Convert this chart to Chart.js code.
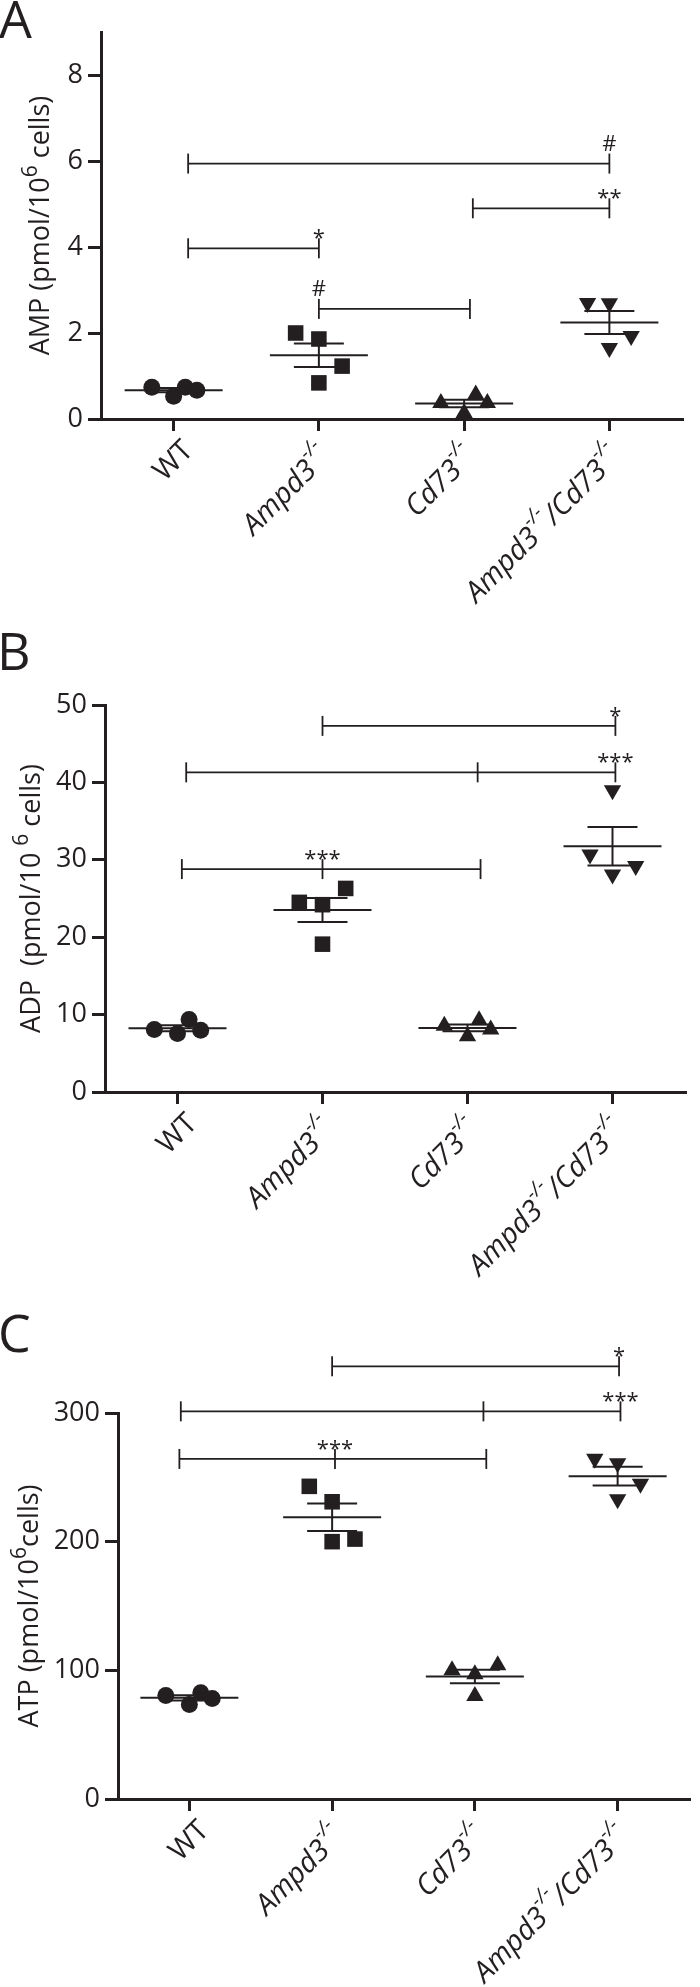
<!DOCTYPE html>
<html>
<head>
<meta charset="utf-8">
<script src="https://cdn.jsdelivr.net/npm/chart.js@4.4.1/dist/chart.umd.min.js"></script>
<style>
  html, body { margin: 0; padding: 0; background: #fff; }
  body { width: 700px; height: 1987px; position: relative; overflow: hidden; }
  canvas { position: absolute; left: 0; }
</style>
</head>
<body>
<canvas id="chartA" width="700" height="640" style="top:0px"></canvas>
<canvas id="chartB" width="700" height="700" style="top:600px"></canvas>
<canvas id="chartC" width="700" height="687" style="top:1300px"></canvas>
<script>
// genotypes, "-/-" is written as a superscript
const categories = ['WT', 'Ampd3-/-', 'Cd73-/-', 'Ampd3-/-/Cd73-/-'];

// AMP (pmol/10^6 cells), 4 mice per genotype
const ampWT = [0.74, 0.53, 0.74, 0.67];
const ampAmpd3 = [2.00, 1.86, 1.23, 0.84];
const ampCd73 = [0.37, 0.57, 0.37, 0.14];
const ampDouble = [2.70, 2.69, 1.93, 1.65];
const ampTicks = [0, 2, 4, 6, 8];

// ADP
const adpWT = [8.07, 7.56, 9.37, 7.99];
const adpAmpd3 = [24.5, 24.2, 26.3, 19.1];
const adpCd73 = [8.55, 9.28, 8.07, 7.21];
const adpDouble = [30.7, 39.0, 28.1, 29.2];
const adpTicks = [0, 10, 20, 30, 40, 50];

// ATP
const atpWT = [80.4, 73.4, 82.5, 78.1];
const atpAmpd3 = [243, 231, 200, 202];
const atpCd73 = [100, 97, 104, 80];
const atpDouble = [264.5, 261, 245, 233];
const atpTicks = [0, 100, 200, 300];

// significance brackets: [from, to, y, middle tick, mark, mark at]
const ampBrackets = [
    [0.10, 3.00, 5.94, null, '#', 3.00],
    [2.06, 3.00, 4.90, null, '**', 3.00],
    [0.10, 1.00, 3.97, null, '*', 1.00],
    [1.00, 2.04, 2.56, null, '#', 1.00],
];
const adpBrackets = [
    [0.03, 2.09, 28.8, 1.00, '***', 1.00],
    [0.06, 3.02, 41.3, 2.07, '***', 3.02],
    [1.00, 3.02, 47.3, null, '*', 3.02],
];
const atpBrackets = [
    [-0.07, 2.08, 264.3, 1.02, '***', 1.02],
    [-0.06, 3.02, 301.3, 2.06, '***', 3.02],
    [1.00, 3.01, 336.3, null, '*', 3.01],
];

// horizontal scatter of the dots inside each column (layout only)
const jitterA = [[-0.15, 0, 0.08, 0.16], [-0.16, 0, 0.16, 0], [-0.16, 0.08, 0.16, 0], [-0.15, 0, 0.15, 0]];
const jitterB = [[-0.16, 0, 0.08, 0.16], [-0.16, 0, 0.16, 0], [-0.16, 0.08, 0.16, 0], [-0.155, 0, 0, 0.16]];
const jitterC = [[-0.165, 0, 0.08, 0.16], [-0.16, 0, 0, 0.16], [-0.16, 0, 0.16, 0], [-0.16, 0, 0.16, 0]];

const INK = '#231f20';
const markerStyles = ['circle', 'rect', 'triangle', 'triangle'];
const markerRadii = [8.5, 11, 10, 10];
const markerRotation = [0, 0, 0, 180];

function meanSem(vals) {
    const n = vals.length;
    const m = vals.reduce((a, b) => a + b, 0) / n;
    const sd = Math.sqrt(vals.reduce((a, b) => a + (b - m) * (b - m), 0) / (n - 1));
    return [m, sd / Math.sqrt(n)];
}

function line(ctx, x1, y1, x2, y2) {
    ctx.beginPath();
    ctx.moveTo(x1, y1);
    ctx.lineTo(x2, y2);
    ctx.stroke();
}

// text pieces with "-/-" raised
function drawPieces(ctx, pieces, x0, mainFont, supFont, raise) {
    let x = x0;
    pieces.forEach(pc => {
        ctx.font = pc.sup ? supFont : mainFont;
        ctx.fillText(pc.t, x, pc.sup ? -raise : 0);
        x += ctx.measureText(pc.t).width;
    });
}

function piecesWidth(ctx, pieces, mainFont, supFont) {
    let w = 0;
    pieces.forEach(pc => {
        ctx.font = pc.sup ? supFont : mainFont;
        w += ctx.measureText(pc.t).width;
    });
    return w;
}

function splitLabel(label) {
    const parts = label.split('-/-');
    const pieces = [];
    parts.forEach((p, k) => {
        if (p) pieces.push({ t: p, sup: false });
        if (k < parts.length - 1) pieces.push({ t: '-/-', sup: true });
    });
    return pieces;
}

function makePanel(canvasId, p) {
    const datasets = p.groups.map((vals, i) => ({
        data: vals.map((v, j) => ({ x: i + p.jitter[i][j], y: v })),
        pointStyle: markerStyles[i],
        pointRadius: markerRadii[i],
        pointHoverRadius: markerRadii[i],
        rotation: markerRotation[i],
        backgroundColor: INK,
        borderColor: INK,
        borderWidth: 0,
    }));

    const decor = {
        id: 'decor' + canvasId,
        afterDatasetsDraw(chart) {
            const { ctx } = chart;
            const xs = chart.scales.x;
            const ys = chart.scales.y;
            ctx.save();
            ctx.strokeStyle = INK;
            ctx.fillStyle = INK;

            // mean and SEM
            ctx.lineWidth = 2;
            p.groups.forEach((vals, i) => {
                const [m, sem] = meanSem(vals);
                const cx = xs.getPixelForValue(i);
                const my = ys.getPixelForValue(m);
                const up = ys.getPixelForValue(m + sem);
                const dn = ys.getPixelForValue(m - sem);
                line(ctx, cx - 49, my, cx + 49, my);
                line(ctx, cx - 25, up, cx + 25, up);
                line(ctx, cx - 25, dn, cx + 25, dn);
                line(ctx, cx, up, cx, dn);
            });

            // brackets
            ctx.lineWidth = 1.8;
            ctx.textAlign = 'center';
            ctx.textBaseline = 'alphabetic';
            ctx.font = '22px "Open Sans"';
            p.brackets.forEach(([from, to, yv, mid, mark, markAt]) => {
                const yy = ys.getPixelForValue(yv);
                const x1 = xs.getPixelForValue(from);
                const x2 = xs.getPixelForValue(to);
                line(ctx, x1, yy, x2, yy);
                [from, to, mid].forEach(v => {
                    if (v === null) return;
                    const xx = xs.getPixelForValue(v);
                    line(ctx, xx, yy - 10, xx, yy + 10);
                });
                const base = mark.includes('*') ? yy - 10 + 7 : yy - 10 - 3;
                ctx.fillText(mark, xs.getPixelForValue(markAt), base);
            });
            ctx.restore();
        },
        afterDraw(chart) {
            const { ctx } = chart;
            const xs = chart.scales.x;
            const area = chart.chartArea;
            ctx.save();
            ctx.fillStyle = INK;
            ctx.textBaseline = 'alphabetic';
            ctx.textAlign = 'left';

            // panel letter
            ctx.font = '52px "Open Sans"';
            ctx.fillText(p.letter, p.letterPos[0], p.letterPos[1]);

            // category labels, rotated 45 degrees
            categories.forEach((lab, i) => {
                const pieces = splitLabel(lab);
                const mainFont = i === 0 ? '29px "Open Sans"' : 'italic 29px "Open Sans"';
                const supFont = 'italic 20px "Open Sans"';
                const w = piecesWidth(ctx, pieces, mainFont, supFont);
                const endsSup = pieces[pieces.length - 1].sup;
                ctx.save();
                ctx.translate(xs.getPixelForValue(i) + (endsSup ? 13 : 21), area.bottom + (endsSup ? 39 : 33));
                ctx.rotate(-Math.PI / 4);
                drawPieces(ctx, pieces, -w, mainFont, supFont, 16);
                ctx.restore();
            });

            // y axis title
            const tFont = '27px "Open Sans"';
            const sFont = '21px "Open Sans"';
            const w = piecesWidth(ctx, p.title, tFont, sFont);
            ctx.save();
            ctx.translate(p.titleX, (area.top + area.bottom) / 2);
            ctx.rotate(-Math.PI / 2);
            drawPieces(ctx, p.title, -w / 2, tFont, sFont, 12);
            ctx.restore();
            ctx.restore();
        },
    };

    return new Chart(document.getElementById(canvasId), {
        type: 'scatter',
        data: { datasets },
        plugins: [decor],
        options: {
            responsive: false,
            animation: false,
            devicePixelRatio: 1,
            events: [],
            layout: { padding: { top: p.top, right: p.right, bottom: 0, left: 0 } },
            plugins: { legend: { display: false }, tooltip: { enabled: false } },
            scales: {
                x: {
                    type: 'linear',
                    min: -0.5,
                    max: 3.5,
                    afterBuildTicks: s => { s.ticks = categories.map((c, i) => ({ value: i })); },
                    afterFit: s => { s.height = p.xHeight; },
                    ticks: { display: false },
                    grid: { drawOnChartArea: false, tickLength: 12, lineWidth: 3, color: INK },
                    border: { width: 3, color: INK },
                },
                y: {
                    min: 0,
                    max: p.max,
                    afterBuildTicks: s => { s.ticks = p.ticks.map(v => ({ value: v })); },
                    afterFit: s => { s.width = p.left; },
                    ticks: { font: { family: 'Open Sans', size: 27 }, color: INK, padding: 5 },
                    grid: { drawOnChartArea: false, tickLength: 13, lineWidth: 3, color: INK },
                    border: { width: 3, color: INK },
                },
            },
        },
    });
}

makePanel('chartA', {
    groups: [ampWT, ampAmpd3, ampCd73, ampDouble],
    jitter: jitterA,
    brackets: ampBrackets,
    ticks: ampTicks,
    max: 9,
    letter: 'A', letterPos: [-1, 38],
    title: [{ t: 'AMP (pmol/10', sup: false }, { t: '6', sup: true }, { t: ' cells)', sup: false }],
    titleX: 49,
    top: 32, right: 18, left: 101, xHeight: 221,
});

makePanel('chartB', {
    groups: [adpWT, adpAmpd3, adpCd73, adpDouble],
    jitter: jitterB,
    brackets: adpBrackets,
    ticks: adpTicks,
    max: 50,
    letter: 'B', letterPos: [-3, 70],
    title: [{ t: 'ADP  (pmol/10 ', sup: false }, { t: '6', sup: true }, { t: ' cells)', sup: false }],
    titleX: 40,
    top: 105, right: 15, left: 105, xHeight: 208,
});

makePanel('chartC', {
    groups: [atpWT, atpAmpd3, atpCd73, atpDouble],
    jitter: jitterC,
    brackets: atpBrackets,
    ticks: atpTicks,
    max: 300,
    letter: 'C', letterPos: [-2, 52],
    title: [{ t: 'ATP (pmol/10', sup: false }, { t: '6', sup: true }, { t: 'cells)', sup: false }],
    titleX: 38,
    top: 113, right: 2, left: 118, xHeight: 188,
});
</script>
</body>
</html>
